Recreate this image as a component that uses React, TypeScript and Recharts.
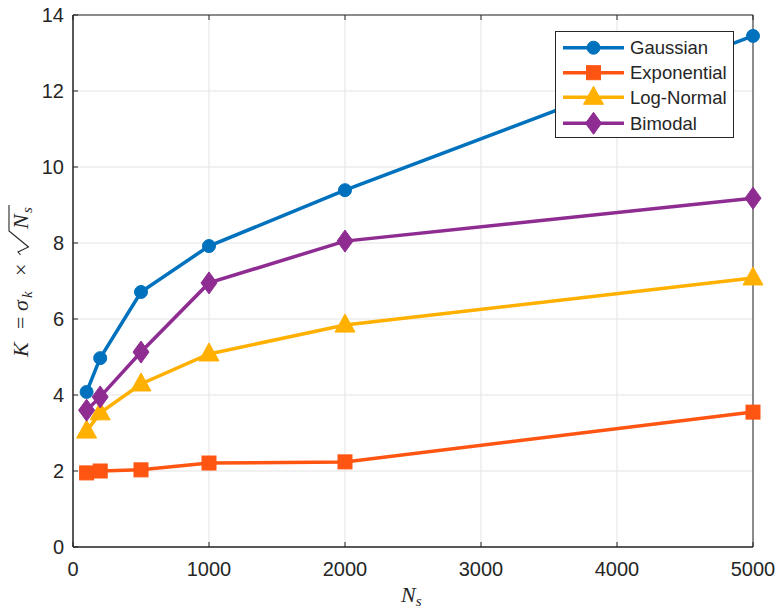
import React from 'react';
import { LineChart, Line, XAxis, YAxis, CartesianGrid, ReferenceArea } from 'recharts';

const nsValues = [100, 200, 500, 1000, 2000, 5000];
const gaussian = [4.08, 4.97, 6.71, 7.92, 9.39, 13.45];
const exponential = [1.95, 2.0, 2.03, 2.21, 2.24, 3.55];
const logNormal = [3.05, 3.53, 4.29, 5.08, 5.84, 7.08];
const bimodal = [3.6, 3.95, 5.13, 6.95, 8.05, 9.18];
const xTicks = [0, 1000, 2000, 3000, 4000, 5000];
const yTicks = [0, 2, 4, 6, 8, 10, 12, 14];

const seriesNames = ['Gaussian', 'Exponential', 'Log-Normal', 'Bimodal'];
const colors = ['#0072BD', '#FF5512', '#FFB000', '#8E2C92'];
const shapes = ['circle', 'square', 'triangle', 'diamond'];

const data = nsValues.map((n, i) => ({
  ns: n,
  Gaussian: gaussian[i],
  Exponential: exponential[i],
  'Log-Normal': logNormal[i],
  Bimodal: bimodal[i],
}));

const TICK_FONT = { fontFamily: 'Liberation Sans, Arial, sans-serif', fontSize: 20, fill: '#262626' };
const SERIF = 'Liberation Serif, Times New Roman, serif';

function Marker({ shape, cx, cy, color }: any) {
  if (cx == null || cy == null) return null;
  if (shape === 'circle') return <circle cx={cx} cy={cy} r={6.5} fill={color} stroke={color} />;
  if (shape === 'square') return <rect x={cx - 7} y={cy - 7} width={14} height={14} fill={color} stroke={color} />;
  if (shape === 'triangle')
    return <polygon points={`${cx},${cy - 11} ${cx - 10},${cy + 7} ${cx + 10},${cy + 7}`} fill={color} stroke={color} />;
  return <polygon points={`${cx},${cy - 11} ${cx - 8},${cy} ${cx},${cy + 11} ${cx + 8},${cy}`} fill={color} stroke={color} />;
}

function LegendBox() {
  const rows = [16.7, 41.7, 66.3, 92.3];
  return (
    <svg width={179} height={107} style={{ display: 'block' }}>
      <rect x={0.5} y={0.5} width={178} height={106} fill="#ffffff" stroke="#262626" strokeWidth={1} />
      {seriesNames.map((name, i) => (
        <g key={name}>
          <line x1={8} x2={69} y1={rows[i]} y2={rows[i]} stroke={colors[i]} strokeWidth={3.5} />
          <Marker shape={shapes[i]} cx={38.5} cy={rows[i]} color={colors[i]} />
          <text x={75} y={rows[i] + 6.5} style={{ fontFamily: 'Liberation Sans, Arial, sans-serif', fontSize: 18.5, fill: '#262626' }}>
            {name}
          </text>
        </g>
      ))}
    </svg>
  );
}

const YLabel = () => {
  return (
    <g transform="translate(27.5, 357) rotate(-90)">
      <text x={0} y={0} style={{ fontFamily: SERIF, fontSize: 22, fill: '#262626' }}>
        <tspan x={0} y={0} fontStyle="italic">K</tspan>
        <tspan x={28} y={0}>=</tspan>
        <tspan x={46} y={0} fontStyle="italic">σ</tspan>
        <tspan x={59} y={4} fontStyle="italic" fontSize={15}>k</tspan>
        <tspan x={81} y={0}>×</tspan>
        <tspan x={128} y={0} fontStyle="italic">N</tspan>
        <tspan x={144} y={4} fontStyle="italic" fontSize={15}>s</tspan>
      </text>
      <path d="M102,-7 L105,-9.5 L110,1 L126,-18.5 L152,-18.5" fill="none" stroke="#262626" strokeWidth={1.1} />
    </g>
  );
};

const XLabel = () => {
  return (
    <text x={401} y={602} style={{ fontFamily: SERIF, fontSize: 22, fill: '#262626' }}>
      <tspan fontStyle="italic">N</tspan>
      <tspan fontStyle="italic" fontSize={15} dy={4}>s</tspan>
    </text>
  );
};

const noTick = () => <g />;

export default function App() {
  return (
    <div style={{ position: 'absolute', left: 0, top: 0, width: 781, height: 615, background: '#fff' }}>
      <LineChart width={781} height={615} data={data} margin={{ top: 14, right: 27, bottom: 0, left: 0 }}>
        <CartesianGrid stroke="#e3e3e3" strokeWidth={1} />
        <XAxis
          dataKey="ns"
          type="number"
          domain={[0, 5000]}
          ticks={xTicks}
          tick={TICK_FONT}
          tickSize={-5}
          tickMargin={20}
          stroke="#262626"
          axisLine={{ stroke: '#262626' }}
          tickLine={{ stroke: '#262626' }}
          height={68}
          label={{ content: () => <XLabel /> }}
        />
        <XAxis
          xAxisId="top"
          orientation="top"
          dataKey="ns"
          type="number"
          domain={[0, 5000]}
          ticks={xTicks}
          tick={noTick}
          tickSize={-5}
          height={1}
          axisLine={false}
          tickLine={{ stroke: '#262626' }}
        />
        <YAxis
          type="number"
          domain={[0, 14]}
          ticks={yTicks}
          tick={TICK_FONT}
          tickSize={-5}
          tickMargin={14}
          width={73}
          stroke="#262626"
          axisLine={{ stroke: '#262626' }}
          tickLine={{ stroke: '#262626' }}
          label={{ content: () => <YLabel /> }}
        />
        <YAxis
          yAxisId="right"
          orientation="right"
          type="number"
          domain={[0, 14]}
          ticks={yTicks}
          tick={noTick}
          tickSize={-5}
          width={1}
          axisLine={false}
          tickLine={{ stroke: '#262626' }}
        />
        <ReferenceArea x1={0} x2={5000} y1={0} y2={14} fill="none" stroke="#262626" strokeWidth={1} fillOpacity={0} />
        {seriesNames.map((name, i) => (
          <Line
            key={name}
            dataKey={name}
            stroke={colors[i]}
            strokeWidth={3.5}
            isAnimationActive={false}
            dot={(p: any) => <Marker key={`${name}-${p.index}`} shape={shapes[i]} cx={p.cx} cy={p.cy} color={colors[i]} />}
            activeDot={false}
          />
        ))}
      </LineChart>
      <div style={{ position: 'absolute', left: 555, top: 31, width: 179, height: 107 }}>
        <LegendBox />
      </div>
    </div>
  );
}
